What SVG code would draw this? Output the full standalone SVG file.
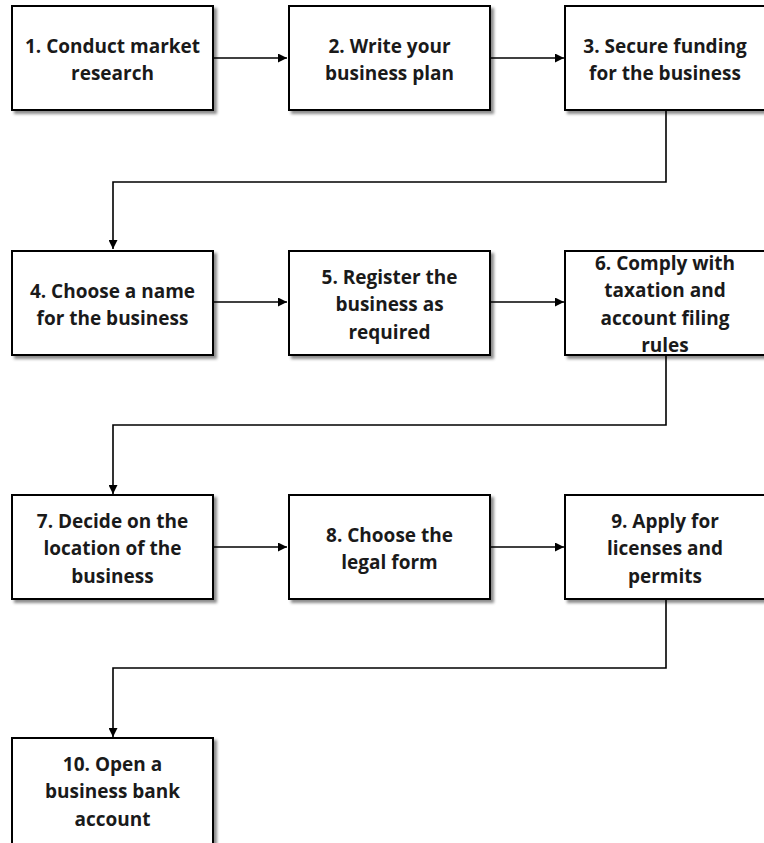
<svg xmlns="http://www.w3.org/2000/svg" width="764" height="843" viewBox="0 0 764 843">
<style>
.box{fill:#fff;stroke:#000;stroke-width:2;filter:url(#sh)}
.t{font-family:"Open Sans",Lato,sans-serif;font-weight:bold;font-size:19px;fill:#1a1a1a;text-anchor:middle}
.c{fill:none;stroke:#000;stroke-width:1.6;marker-end:url(#ah)}
</style>
<defs>
<filter id="sh" x="-10%" y="-10%" width="130%" height="130%">
<feDropShadow dx="3" dy="3" stdDeviation="1.8" flood-color="#000" flood-opacity="0.45"/>
</filter>
<marker id="ah" viewBox="0 0 10 10" refX="10" refY="5" markerWidth="9" markerHeight="9" markerUnits="userSpaceOnUse" orient="auto">
<path d="M0,0 L10,5 L0,10 z" fill="#000"/>
</marker>
</defs>
<rect width="764" height="843" fill="#fff"/>
<g id="connectors">
<path class="c" d="M213,58 H287"/>
<path class="c" d="M490,58 H564"/>
<path class="c" d="M666,111 V182 H113 V249"/>
<path class="c" d="M213,302 H287"/>
<path class="c" d="M490,302 H564"/>
<path class="c" d="M666,355 V425 H113 V494"/>
<path class="c" d="M213,547 H287"/>
<path class="c" d="M490,547 H564"/>
<path class="c" d="M666,599 V668 H113 V737"/>
</g>
<g id="n1"><rect class="box" x="12" y="6" width="201" height="104"/><text class="t" x="112.5" y="52.5">1. Conduct market</text><text class="t" x="112.5" y="80">research</text></g>
<g id="n2"><rect class="box" x="289" y="6" width="201" height="104"/><text class="t" x="389.5" y="52.5">2. Write your</text><text class="t" x="389.5" y="80">business plan</text></g>
<g id="n3"><rect class="box" x="565" y="6" width="201" height="104"/><text class="t" x="665" y="52.5">3. Secure funding</text><text class="t" x="665" y="80">for the business</text></g>
<g id="n4"><rect class="box" x="12" y="251" width="201" height="104"/><text class="t" x="112.5" y="297.5">4. Choose a name</text><text class="t" x="112.5" y="325">for the business</text></g>
<g id="n5"><rect class="box" x="289" y="251" width="201" height="104"/><text class="t" x="389.5" y="283.5">5. Register the</text><text class="t" x="389.5" y="311">business as</text><text class="t" x="389.5" y="338.5">required</text></g>
<g id="n6"><rect class="box" x="565" y="251" width="201" height="104"/><text class="t" x="665" y="269.5">6. Comply with</text><text class="t" x="665" y="297">taxation and</text><text class="t" x="665" y="324.5">account filing</text><text class="t" x="665" y="352">rules</text></g>
<g id="n7"><rect class="box" x="12" y="495" width="201" height="104"/><text class="t" x="112.5" y="527.5">7. Decide on the</text><text class="t" x="112.5" y="555">location of the</text><text class="t" x="112.5" y="582.5">business</text></g>
<g id="n8"><rect class="box" x="289" y="495" width="201" height="104"/><text class="t" x="389.5" y="541.5">8. Choose the</text><text class="t" x="389.5" y="569">legal form</text></g>
<g id="n9"><rect class="box" x="565" y="495" width="201" height="104"/><text class="t" x="665" y="527.5">9. Apply for</text><text class="t" x="665" y="555">licenses and</text><text class="t" x="665" y="582.5">permits</text></g>
<g id="n10"><rect class="box" x="12" y="738" width="201" height="110"/><text class="t" x="112.5" y="770.5">10. Open a</text><text class="t" x="112.5" y="798">business bank</text><text class="t" x="112.5" y="825.5">account</text></g>
</svg>
